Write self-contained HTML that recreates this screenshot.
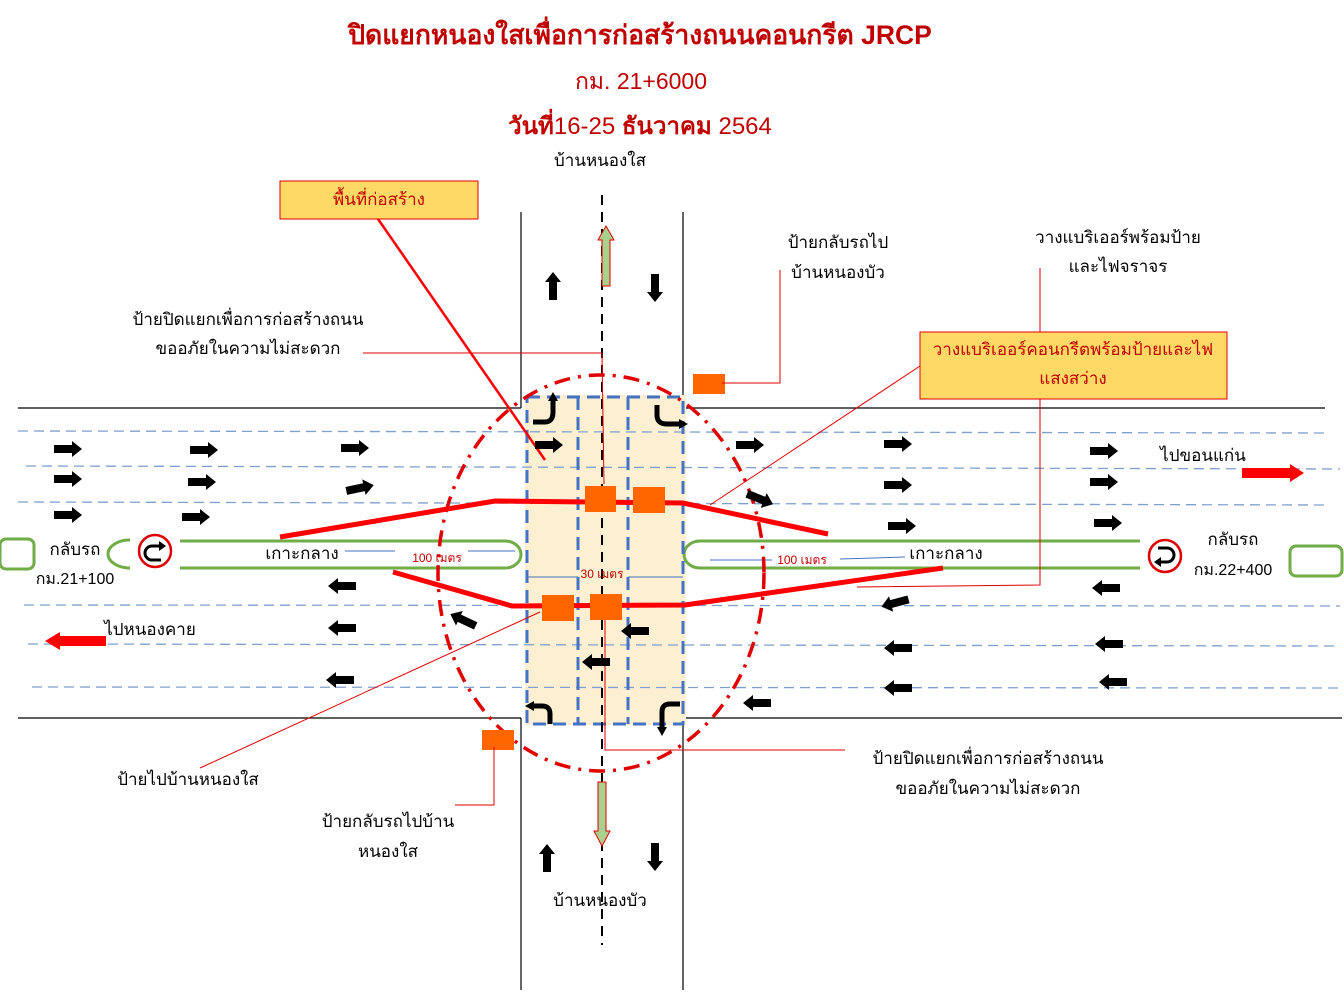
<!DOCTYPE html>
<html><head><meta charset="utf-8"><style>
html,body{margin:0;padding:0;background:#fff;}
svg{display:block;font-family:"Liberation Sans","Noto Sans CJK SC",sans-serif;}
</style></head><body>
<svg width="1344" height="1008" viewBox="0 0 1344 1008" xmlns="http://www.w3.org/2000/svg">
<defs>
<polygon id="ar" points="-14,-4 4,-4 4,-8 14,0 4,8 4,4 -14,4" fill="#000"/>
</defs>
<g stroke="#000" stroke-width="1.2">
<line x1="18" y1="408" x2="521" y2="408"/><line x1="683" y1="408" x2="1325" y2="408"/>
<line x1="18" y1="718" x2="521" y2="718"/><line x1="683" y1="718" x2="1342" y2="718"/>
<line x1="521" y1="212" x2="521" y2="408"/><line x1="683" y1="212" x2="683" y2="408"/>
<line x1="521" y1="718" x2="521" y2="990"/><line x1="683" y1="718" x2="683" y2="990"/>
</g>
<rect x="525" y="395" width="161" height="330" fill="#fdf0d2"/>
<g stroke="#7f9fcf" stroke-width="1.3" stroke-dasharray="10,6">
<line x1="18" y1="431" x2="1325" y2="433"/>
<line x1="26" y1="466" x2="1340" y2="469"/>
<line x1="18" y1="502" x2="1325" y2="505"/>
<line x1="24" y1="605" x2="1340" y2="606"/>
<line x1="28" y1="644" x2="1340" y2="646"/>
<line x1="32" y1="687" x2="1340" y2="688"/>
</g>
<g fill="none" stroke="#70ad47" stroke-width="3">
<path d="M180,541 H505 A16,13.5 0 0 1 505,568 H180"/>
<path d="M1140,541 H700 A16,13.5 0 0 0 700,568 H1140"/>
<path d="M130,540 A22,14 0 0 0 130,568"/>
<rect x="0" y="539" width="34" height="30" rx="6"/>
<rect x="1290" y="546" width="52" height="30" rx="6"/>
</g>
<g fill="none" stroke="#4472c4" stroke-width="3" stroke-dasharray="13,7">
<rect x="527" y="397" width="156" height="327"/>
<line x1="578" y1="397" x2="578" y2="724"/>
<line x1="628" y1="397" x2="628" y2="724"/>
</g>
<line x1="602" y1="195" x2="602" y2="945" stroke="#000" stroke-width="2" stroke-dasharray="10,7"/>
<g stroke="#4472c4" stroke-width="1">
<line x1="345" y1="551" x2="395" y2="551"/><line x1="468" y1="551" x2="515" y2="551"/>
<line x1="527" y1="577" x2="578" y2="577"/><line x1="628" y1="577" x2="683" y2="577"/>
<line x1="710" y1="560" x2="772" y2="560"/><line x1="840" y1="559" x2="905" y2="557"/>
</g>
<ellipse cx="601" cy="573" rx="163" ry="198" fill="none" stroke="#e00000" stroke-width="3.5" stroke-dasharray="16,8,3,8"/>
<g fill="none" stroke="#ff0000" stroke-width="5">
<polyline points="280,537 495,501 683,503 828,534"/>
<polyline points="393,572 512,606 685,605 943,568"/>
</g>
<g fill="#ff6600">
<rect x="585" y="486" width="31" height="26"/><rect x="633" y="487" width="32" height="26"/>
<rect x="542" y="595" width="32" height="26"/><rect x="590" y="594" width="32" height="26"/>
<rect x="693" y="374" width="32" height="20"/><rect x="482" y="730" width="32" height="20"/>
</g>
<g fill="none" stroke="#e00000" stroke-width="1">
<line x1="363" y1="353" x2="602" y2="353"/><line x1="602" y1="353" x2="604" y2="484"/>
<polyline points="780,270 780,383 722,383"/>
<line x1="920" y1="366" x2="710" y2="505"/>
<polyline points="1040,268 1040,585 857,587"/>
<line x1="200" y1="768" x2="540" y2="612"/>
<polyline points="455,805 494,805 494,747"/>
<polyline points="605,620 605,750 845,750"/>
</g>
<line x1="378" y1="219" x2="545" y2="460" stroke="#ff0000" stroke-width="2.5"/>
<polygon points="602,286 602,240 598,240 606,226 614,240 610,240 610,286" fill="#a9d18e" stroke="#e00000" stroke-width="1"/>
<polygon points="598,782 598,831 594,831 602,846 610,831 606,831 606,782" fill="#a9d18e" stroke="#e00000" stroke-width="1"/>
<polygon points="1242,468 1290,468 1290,464 1304,473 1290,482 1290,478 1242,478" fill="#ff0000"/>
<polygon points="106,636 60,636 60,632 45,641 60,650 60,646 106,646" fill="#ff0000"/>
<use href="#ar" x="68" y="449"/><use href="#ar" x="204" y="450"/><use href="#ar" x="355" y="448"/>
<use href="#ar" x="68" y="479"/><use href="#ar" x="202" y="482"/>
<use href="#ar" transform="translate(360,488) rotate(-12)"/>
<use href="#ar" x="68" y="515"/><use href="#ar" x="196" y="517"/>
<use href="#ar" x="549" y="445"/><use href="#ar" x="750" y="445"/>
<use href="#ar" transform="translate(760,499) rotate(22)"/>
<use href="#ar" x="898" y="444"/><use href="#ar" x="898" y="485"/><use href="#ar" x="902" y="526"/>
<use href="#ar" x="1104" y="451"/><use href="#ar" x="1104" y="482"/><use href="#ar" x="1108" y="523"/>
<g>
<use href="#ar" transform="translate(342,586) scale(-1,1)"/>
<use href="#ar" transform="translate(342,628) scale(-1,1)"/>
<use href="#ar" transform="translate(340,680) scale(-1,1)"/>
<use href="#ar" transform="translate(463,620) rotate(205)"/>
<use href="#ar" transform="translate(635,631) scale(-1,1)"/>
<use href="#ar" transform="translate(596,662) scale(-1,1)"/>
<use href="#ar" transform="translate(757,703) scale(-1,1)"/>
<use href="#ar" transform="translate(895,603) rotate(165)"/>
<use href="#ar" transform="translate(898,648) scale(-1,1)"/>
<use href="#ar" transform="translate(898,688) scale(-1,1)"/>
<use href="#ar" transform="translate(1106,588) scale(-1,1)"/>
<use href="#ar" transform="translate(1109,644) scale(-1,1)"/>
<use href="#ar" transform="translate(1113,682) scale(-1,1)"/>
<use href="#ar" transform="translate(553,286) rotate(-90)"/>
<use href="#ar" transform="translate(547,858) rotate(-90)"/>
<use href="#ar" transform="translate(655,288) rotate(90)"/>
<use href="#ar" transform="translate(655,857) rotate(90)"/>
</g>
<g fill="none" stroke="#000" stroke-width="5">
<path d="M533,422 H545 Q553,422 553,412 V400"/>
<path d="M657,405 V415 Q657,424 667,424 H680"/>
<path d="M531,706 H542 Q550,706 550,714 V724"/>
<path d="M680,704 H670 Q662,704 662,712 V728"/>
</g>
<g fill="#000">
<polygon points="548,401 558,401 553,392"/><polygon points="679,419 679,429 688,424"/>
<polygon points="534,701 534,711 525,706"/><polygon points="657,727 667,727 662,736"/>
</g>
<g>
<circle cx="155" cy="551" r="16" fill="#fff" stroke="#e00000" stroke-width="2.5"/>
<path d="M161,560 H152 A6,6 0 0 1 152,546 H160" fill="none" stroke="#000" stroke-width="3"/>
<polygon points="159,541 166,546 159,551" fill="#000"/>
<circle cx="1165" cy="556" r="16" fill="#fff" stroke="#e00000" stroke-width="2.5"/>
<path d="M1158,548 H1167 A6,6 0 0 1 1167,562 H1160" fill="none" stroke="#000" stroke-width="3"/>
<polygon points="1161,557 1154,562 1161,567" fill="#000"/>
</g>
<rect x="280" y="181" width="198" height="38" fill="#ffd966" stroke="#e00000" stroke-width="1"/>
<rect x="920" y="332" width="307" height="67" fill="#ffd966" stroke="#e00000" stroke-width="1"/>
<g fill="#c00000" text-anchor="middle">
<text x="640" y="44" font-size="26.5" font-weight="bold">ปิดแยกหนองใสเพื่อการก่อสร้างถนนคอนกรีต  JRCP</text>
<text x="641" y="89" font-size="23">กม. 21+6000</text>
<text x="640" y="134" font-size="24"><tspan font-weight="bold">วันที่</tspan>16-25 <tspan font-weight="bold">ธันวาคม</tspan> 2564</text>
<text x="379" y="205" font-size="17">พื้นที่ก่อสร้าง</text>
<text x="1073" y="355" font-size="17">วางแบริเออร์คอนกรีตพร้อมป้ายและไฟ</text>
<text x="1073" y="384" font-size="17">แสงสว่าง</text>
<text x="437" y="562" font-size="12">100 เมตร</text>
<text x="602" y="578" font-size="12">30 เมตร</text>
<text x="802" y="564" font-size="12">100 เมตร</text>
</g>
<g fill="#000" font-size="17" text-anchor="middle">
<text x="600" y="166">บ้านหนองใส</text>
<text x="838" y="248">ป้ายกลับรถไป</text>
<text x="838" y="278">บ้านหนองบัว</text>
<text x="1118" y="243">วางแบริเออร์พร้อมป้าย</text>
<text x="1118" y="272">และไฟจราจร</text>
<text x="248" y="325">ป้ายปิดแยกเพื่อการก่อสร้างถนน</text>
<text x="248" y="354">ขออภัยในความไม่สะดวก</text>
<text x="1203" y="461">ไปขอนแก่น</text>
<text x="75" y="555">กลับรถ</text>
<text x="75" y="584" font-size="16">กม.21+100</text>
<text x="302" y="559">เกาะกลาง</text>
<text x="946" y="559">เกาะกลาง</text>
<text x="1233" y="545">กลับรถ</text>
<text x="1233" y="575" font-size="16">กม.22+400</text>
<text x="150" y="635">ไปหนองคาย</text>
<text x="988" y="764">ป้ายปิดแยกเพื่อการก่อสร้างถนน</text>
<text x="988" y="794">ขออภัยในความไม่สะดวก</text>
<text x="188" y="785">ป้ายไปบ้านหนองใส</text>
<text x="388" y="827">ป้ายกลับรถไปบ้าน</text>
<text x="388" y="857">หนองใส</text>
<text x="600" y="906">บ้านหนองบัว</text>
</g>
</svg>
</body></html>
